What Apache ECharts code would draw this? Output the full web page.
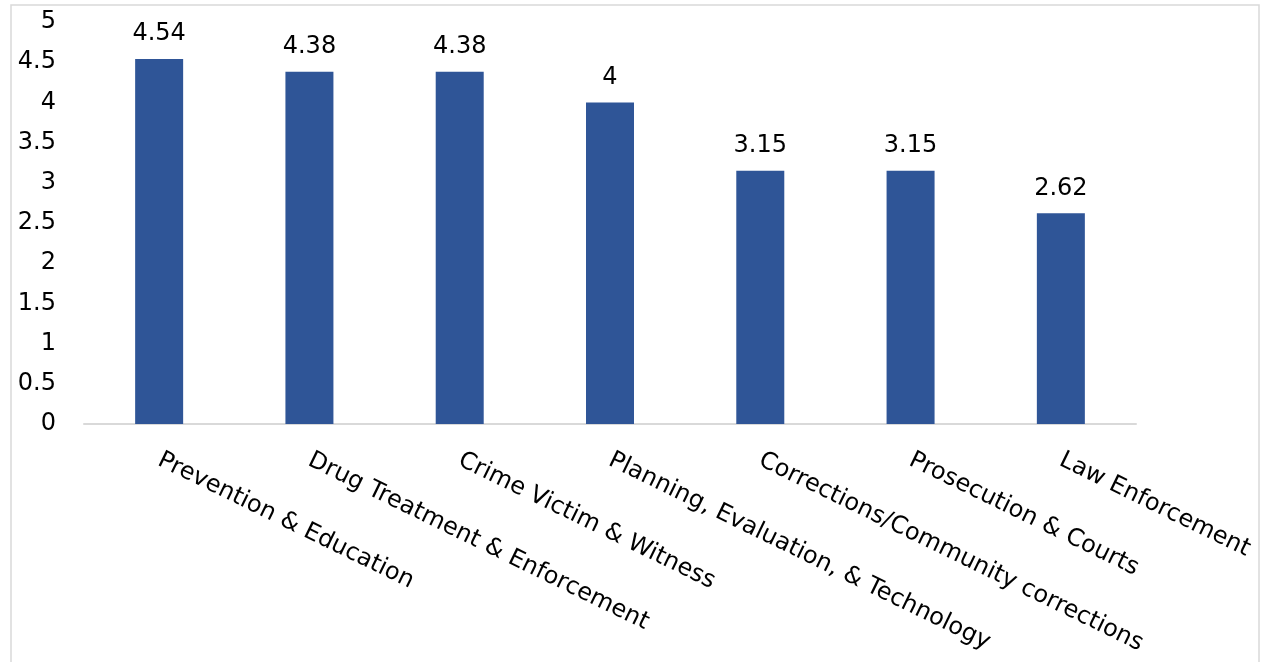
<!DOCTYPE html>
<html>
<head>
<meta charset="utf-8">
<script src="https://cdn.jsdelivr.net/npm/echarts@6/dist/echarts.min.js"></script>
<style>
  html, body { margin: 0; padding: 0; background: #ffffff; }
  #chart { width: 1265px; height: 662px; }
</style>
</head>
<body>
<div id="chart"></div>
<script>
// Average rating by program area
const categories = [
  'Prevention & Education',
  'Drug Treatment & Enforcement',
  'Crime Victim & Witness',
  'Planning, Evaluation, & Technology',
  'Corrections/Community corrections',
  'Prosecution & Courts',
  'Law Enforcement'
];
const ratings = [4.54, 4.38, 4.38, 4, 3.15, 3.15, 2.62];
const yTicks = { min: 0, max: 5, interval: 0.5 };

const FONT = 'DejaVu Sans';
const chart = echarts.init(document.getElementById('chart'));
chart.setOption({
  animation: false,
  backgroundColor: '#ffffff',
  textStyle: { fontFamily: FONT, color: '#000000' },
  graphic: [{
    type: 'rect',
    shape: { x: 11, y: 5, width: 1248, height: 700 },
    style: { fill: 'none', stroke: '#d9d9d9', lineWidth: 1.5 },
    silent: true
  }],
  grid: { left: 84, right: 129, top: 22, bottom: 238, containLabel: false },
  xAxis: {
    type: 'category',
    data: categories,
    axisLine: { show: true, lineStyle: { color: '#d9d9d9', width: 2 } },
    axisTick: { show: false },
    axisLabel: {
      rotate: -26,
      interval: 0,
      fontFamily: FONT,
      fontSize: 24,
      color: '#000000',
      margin: 35
    }
  },
  yAxis: {
    type: 'value',
    min: yTicks.min,
    max: yTicks.max,
    interval: yTicks.interval,
    axisLine: { show: false },
    axisTick: { show: false },
    splitLine: { show: false },
    axisLabel: {
      fontFamily: FONT,
      fontSize: 24,
      color: '#000000',
      margin: 28
    }
  },
  series: [{
    type: 'bar',
    data: ratings,
    barWidth: 48,
    itemStyle: { color: '#2F5597' },
    label: {
      show: true,
      position: 'top',
      distance: 13,
      fontFamily: FONT,
      fontSize: 24,
      color: '#000000'
    }
  }]
});
</script>
</body>
</html>
